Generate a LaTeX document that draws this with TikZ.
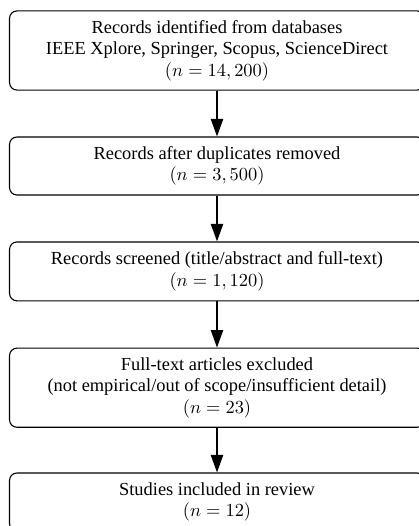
\documentclass[tikz,border=0pt]{standalone}
\usepackage[no-math]{fontspec}
\setmainfont{Liberation Serif}
\usetikzlibrary{arrows.meta}
\tikzset{
  flowbox/.style={draw, line width=0.6pt, rounded corners=4pt, align=center,
    minimum width=225.5pt, inner sep=0pt, font=\fontsize{10}{11.7}\selectfont},
  flowarrow/.style={line width=1pt, -{Triangle[length=9.5pt,width=6.6pt]}}
}
\begin{document}
\begin{tikzpicture}[x=0.5435pt,y=-0.5435pt]
\useasboundingbox (0,0) rectangle (418,526);
\node[flowbox, minimum height=43pt] (b1) at (217,50.5)
  {Records identified from databases\\IEEE Xplore, Springer, Scopus, ScienceDirect\\$(n=14,200)$};
\node[flowbox, minimum height=31.5pt] (b2) at (217,166)
  {Records after duplicates removed\\$(n=3,500)$};
\node[flowbox, minimum height=32pt] (b3) at (217,271.4)
  {Records screened (title/abstract and full-text)\\$(n=1,120)$};
\node[flowbox, minimum height=43pt] (b4) at (217,387.7)
  {Full-text articles excluded\\(not empirical/out of scope/insufficient detail)\\$(n=23)$};
\node[flowbox, minimum height=31.5pt] (b5) at (217,502)
  {Studies included in review\\$(n=12)$};
\draw[flowarrow] (b1) -- (b2);
\draw[flowarrow] (b2) -- (b3);
\draw[flowarrow] (b3) -- (b4);
\draw[flowarrow] (b4) -- (b5);
\end{tikzpicture}
\end{document}
